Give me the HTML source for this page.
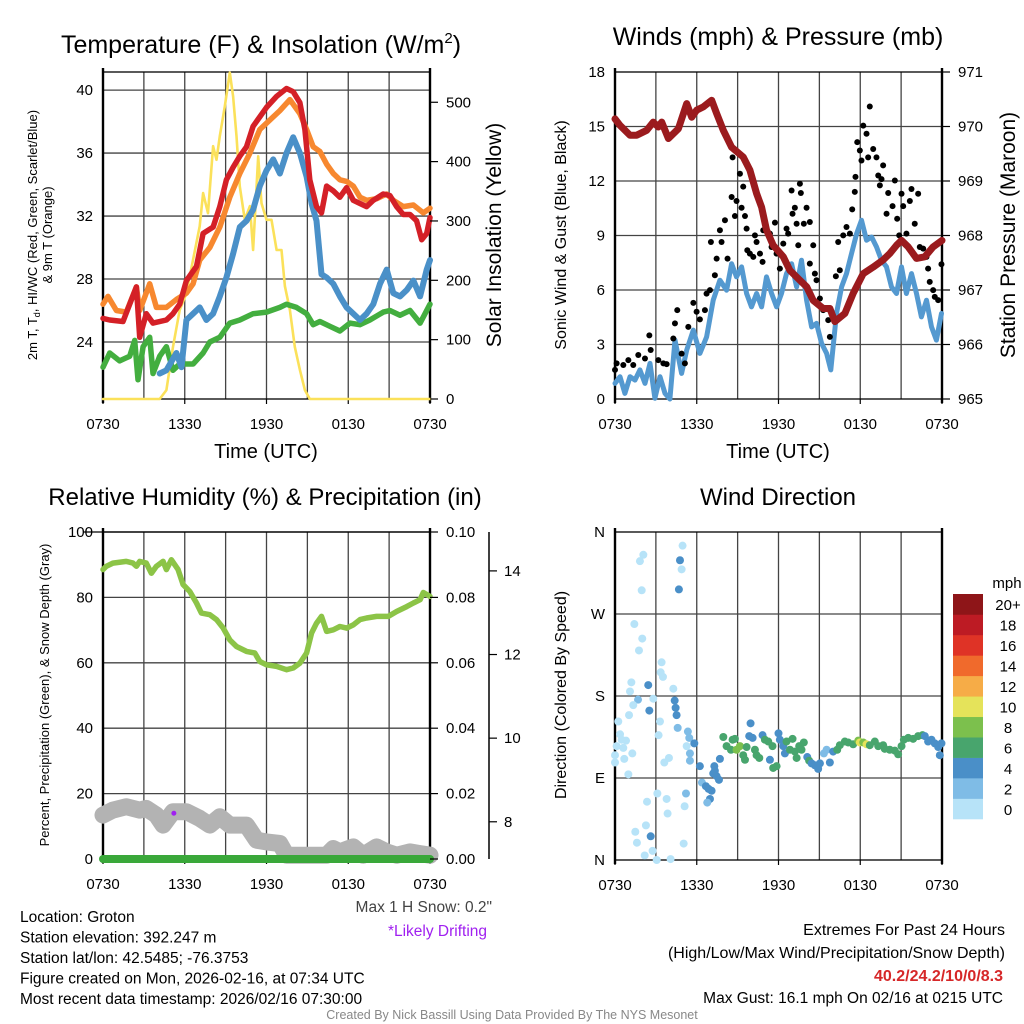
<!DOCTYPE html>
<html><head><meta charset="utf-8">
<style>
html,body{margin:0;padding:0;background:#fff;}
svg{display:block;font-family:"Liberation Sans",sans-serif;}
</style></head>
<body>
<svg id="fig" width="1024" height="1024" viewBox="0 0 1024 1024" xmlns="http://www.w3.org/2000/svg"></svg>
<script>
// ---------- DATA (hours since 0730 UTC) ----------
var xTickHours = [0, 6, 12, 18, 24];
var xTickLabels = ["0730", "1330", "1930", "0130", "0730"];

// Panel 1: temperature (F) & insolation
var redHours = [0,0.49,1.47,2.45,2.69,3.18,3.67,4.65,5.14,5.63,6.12,6.86,7.35,8.08,8.57,9.06,9.55,10.04,10.53,11.02,11.51,12.0,12.74,13.47,13.96,14.45,14.82,15.18,15.67,16.04,16.41,16.9,17.39,17.88,18.37,18.86,19.35,19.84,20.57,21.06,21.55,22.04,22.53,23.02,23.39,23.76,24];
var redTemp = [25.5,25.4,25.3,27.5,24.3,25.8,25.2,25.4,25.8,26.4,27.9,28.8,30.9,31.3,32.6,34.3,35.1,35.8,36.4,37.7,38.3,38.9,39.6,40.1,39.9,39.2,37.5,34.3,32.6,32.2,33.9,33.6,33.2,33.8,33.0,32.8,32.6,33.0,33.4,33.3,32.6,32.1,32.1,31.7,30.5,30.9,31.9];
var orangeHours = [0,0.37,0.98,1.71,2.45,2.69,3.43,3.92,4.65,5.39,6.12,6.61,7.1,7.84,8.57,9.31,10.04,10.78,11.51,12.25,12.98,13.72,14.45,14.94,15.43,15.92,16.41,16.9,17.39,17.88,18.37,18.86,19.35,20.08,20.82,21.31,22.04,22.78,23.51,24];
var orangeTemp = [26.4,26.9,26.0,25.9,27.5,26.0,27.7,26.2,26.2,26.7,27.1,27.7,29.2,30.0,31.3,33.2,34.7,36.0,37.5,38.1,38.7,39.4,38.5,37.5,36.4,36.1,35.3,34.7,34.3,34.2,33.9,33.2,33.0,33.1,33.4,33.0,32.6,32.7,32.2,32.5];
var blueHours = [4.16,4.65,5.39,5.76,6.12,6.61,7.1,7.59,8.08,8.57,9.06,9.55,10.04,10.53,11.02,11.51,12.0,12.49,12.98,13.47,13.96,14.45,14.94,15.31,15.67,16.04,16.41,16.9,17.39,17.88,18.37,18.86,19.35,19.84,20.33,20.82,21.31,21.8,22.29,22.78,23.27,23.76,24];
var blueTemp = [22.0,22.2,23.3,22.4,25.4,25.8,26.2,25.4,25.8,26.9,28.1,29.6,31.3,31.7,32.4,33.9,34.9,35.6,34.7,36.0,37.0,36.0,34.5,32.8,31.7,28.3,28.1,27.7,26.9,26.2,25.8,25.4,25.8,26.4,27.7,28.6,27.1,26.9,27.3,27.9,26.9,28.6,29.2];
var greenHours = [0,0.49,1.22,1.96,2.33,2.57,2.94,3.43,3.67,4.16,4.65,5.14,5.63,6.61,7.35,7.84,8.57,9.31,10.04,11.02,12.0,12.98,13.47,14.2,14.94,15.43,15.92,16.65,17.39,18.12,18.86,19.59,20.57,21.06,21.8,22.53,23.27,24];
var greenTemp = [22.4,23.3,22.8,23.1,24.1,21.6,23.7,24.3,22.0,23.1,23.7,22.2,22.6,22.6,23.3,24.0,24.3,25.2,25.4,25.8,25.9,26.2,26.4,26.2,25.8,25.1,25.3,25.0,24.7,25.2,25.1,25.4,25.9,26.0,25.7,26.0,25.2,26.4];
var solarHours = [0,4.16,4.65,5.14,5.63,6.12,6.61,7.1,7.35,7.71,8.08,8.33,8.57,8.94,9.31,9.55,9.8,10.04,10.41,10.78,11.02,11.39,11.63,12.0,12.37,12.74,13.1,13.35,13.72,14.08,14.45,14.82,15.18,24];
var solarWm2 = [0,0,15,88,150,178,235,291,347,313,426,403,443,493,550,510,443,358,302,325,251,409,330,302,302,251,251,190,150,88,49,15,0,0];

// Panel 2: winds (mph) & pressure (mb)
var windHours = [0,0.37,0.73,1.1,1.47,1.83,2.2,2.57,2.93,3.3,3.67,4.03,4.4,4.89,5.26,5.75,6.23,6.72,7.21,7.7,8.19,8.56,8.92,9.29,9.66,10.02,10.39,10.76,11.12,11.49,11.86,12.22,12.59,12.96,13.33,13.69,14.06,14.43,14.79,15.16,15.53,15.84,16.26,16.63,16.99,17.36,17.73,18.09,18.46,18.83,19.19,19.56,19.93,20.29,20.66,21.03,21.39,21.76,22.13,22.49,22.86,23.23,23.59,23.96];
var windMph = [0.86,1.23,0.31,1.23,1.04,1.6,0.86,1.96,0.04,1.23,0.31,0,3.24,1.41,2.69,3.79,2.51,3.42,5.44,6.54,5.99,7.45,6.72,7.27,5.81,5.07,5.81,5.07,6.72,5.81,5.07,5.81,6.9,7.45,6.17,7.64,5.44,3.97,4.16,3.06,2.51,1.6,4.71,6.17,6.9,8.0,9.1,9.84,8.74,8.92,8.37,7.64,7.27,6.17,5.81,7.27,5.81,6.9,5.81,4.52,5.44,3.97,3.24,4.71];
var gustHours = [0,0.12,0.61,0.98,1.34,1.71,2.2,2.52,2.62,3.18,3.55,3.79,4.28,4.4,4.57,4.89,5.13,5.38,5.75,5.99,6.23,6.6,6.72,6.97,7.04,7.33,7.46,7.7,7.82,8.07,8.26,8.56,8.63,8.8,8.92,9.17,9.29,9.41,9.54,9.66,9.71,9.9,10.15,10.27,10.39,10.64,10.83,10.88,11.12,11.37,11.49,11.74,11.86,12.1,12.35,12.59,12.71,12.96,13.03,13.2,13.33,13.45,13.57,13.64,13.86,14.06,14.3,14.55,14.3,14.67,14.79,15.04,15.28,15.65,15.77,16.21,16.38,16.5,16.75,16.99,17.24,17.41,17.6,17.65,17.78,17.97,18.09,18.22,18.46,18.7,18.58,18.95,19.19,19.32,19.44,19.68,19.56,19.93,20.05,20.37,20.54,20.71,20.86,21.03,21.15,21.39,21.64,21.76,22.0,22.25,22.37,22.62,22.86,22.98,23.1,23.35,23.47,23.72,23.96];
var gustMph = [1.6,1.96,1.87,2.14,1.87,2.42,2.23,3.5,2.7,2.14,1.96,1.92,3.33,4.16,4.89,2.5,1.96,3.97,5.29,4.8,4.38,4.89,5.8,5.99,8.64,6.81,7.73,9.29,8.64,9.84,7.73,11.12,13.3,10.07,10.9,12.4,10.53,11.69,10.07,9.38,8.19,8.0,7.82,9.01,8.64,8.0,7.55,9.29,9.38,9.1,8.37,9.71,8.0,7.18,8.55,9.38,9.1,11.48,10.2,10.53,9.65,8.46,11.85,11.34,9.65,10.53,9.74,8.46,7.45,6.9,6.54,5.53,4.89,4.34,3.42,6.76,8.64,7.09,9.01,9.47,9.1,10.44,11.4,12.23,14.14,13.68,13.13,15.05,14.6,16.1,13.3,13.76,13.3,12.3,11.76,12.86,12.1,10.2,11.34,10.62,12.03,9.92,9.01,11.3,10.62,9.1,10.9,11.56,9.65,11.3,8.37,8.28,7.82,7.18,6.45,5.99,5.62,5.44,7.42];
var presHours = [0,0.37,1.1,1.59,2.33,2.81,3.18,3.43,3.92,4.65,5.26,5.63,5.99,6.48,7.1,7.46,7.95,8.56,9.41,9.9,10.39,10.76,11.12,11.61,12.35,12.84,13.57,14.06,14.55,15.28,15.77,16.14,16.87,17.48,18.22,18.95,19.68,20.17,20.66,21.03,21.52,22.13,22.74,23.35,24];
var presMb = [970.14,970.02,969.84,969.84,969.93,970.08,969.99,970.08,969.78,969.96,970.42,970.17,970.3,970.36,970.48,970.24,969.93,969.62,969.44,969.2,968.77,968.52,968.1,967.82,967.61,967.36,967.18,967.06,966.81,966.66,966.66,966.42,966.57,966.94,967.3,967.42,967.55,967.67,967.82,967.91,967.79,967.58,967.61,967.79,967.91];

// Panel 3: RH (%), precipitation (in), snow depth (in)
var rhHours = [0,0.24,0.73,1.71,2.2,2.45,2.69,3.18,3.55,3.92,4.41,4.65,5.02,5.51,5.88,6.37,6.86,7.22,7.84,8.33,8.82,9.31,9.8,10.53,11.14,11.51,12.0,12.74,13.47,13.96,14.45,14.94,15.31,15.67,16.04,16.41,16.9,17.39,17.88,18.37,18.86,19.35,20.08,20.94,21.55,22.29,22.78,23.27,23.51,24];
var rhPct = [88.5,89.5,90.5,91,90.5,89.5,91,90.5,87.4,89.5,91,88.5,91.5,88.5,83.9,81.8,78.3,75.2,74.7,73.2,70.6,67,65,63.5,63,60.4,59.4,58.9,57.9,58.4,59.9,63,69.1,72.1,74.2,69.6,70.1,71.1,70.6,71.6,73.2,73.7,74.2,74.2,75.7,77.2,78.3,79.3,81.5,80.3];
var precipHours = [0, 24];
var precipIn = [0, 0];
var snowHours = [0,0.73,1.71,2.69,3.18,3.92,4.41,5.14,6.12,7.1,7.84,8.57,9.31,10.53,11.27,12.0,12.98,13.47,16.41,16.9,17.39,18.37,19.1,20.08,20.82,21.55,22.53,23.27,24];
var snowIn = [8.16,8.28,8.36,8.28,8.32,8.16,7.92,8.24,8.24,8.08,7.92,8.12,7.92,7.92,7.56,7.52,7.48,7.2,7.2,7.36,7.28,7.4,7.2,7.4,7.28,7.2,7.28,7.24,7.2];
var driftHours = [5.2];
var driftPct = [14];

// Panel 4: wind direction (deg) colored by speed (mph)
var dirHours = [1.83,2.08,1.96,4.77,4.89,4.96,4.69,1.42,2.0,1.76,3.42,3.35,3.52,4.28,1.2,1.1,2.44,1.69,1.34,2.81,2.52,1.03,0.24,4.38,4.45,4.52,4.6,3.3,3.2,0.37,0.49,0.81,0.61,0.12,0,0,0.68,1.27,0.98,3.62,3.96,5.35,5.45,5.5,5.5,5.26,5.82,6.23,6.38,6.67,6.87,7.09,6.97,6.77,5.21,5.11,3.79,3.86,3.11,2.35,2.27,1.49,1.61,2.62,2.18,2.76,3.06,4.08,5.04,7.29,7.21,7.46,7.63,7.33,7.7,7.95,8.19,8.51,8.63,8.8,8.92,9.17,9.41,9.54,9.66,9.95,9.85,10.1,10.27,10.39,10.59,10.83,11.0,11.25,11.37,11.61,11.86,11.56,12.0,12.1,12.35,12.47,12.59,12.84,13.03,13.2,13.33,13.52,13.69,13.86,14.11,14.25,14.43,14.67,14.91,15.04,15.33,15.53,15.77,16.01,16.31,16.5,16.87,17.11,17.48,17.85,17.97,18.22,18.46,18.7,19.07,19.32,19.68,19.8,20.17,20.54,20.78,21.03,21.2,21.52,21.88,22.25,22.57,22.74,22.98,23.23,23.47,23.72,23.84,23.96];
var dirDeg = [328,335,296,329,319,345,297,259,243,230,217,206,201,188,195,185,192,176,170,177,164,159,152,175,167,159,145,152,137,138,132,131,123,125,115,107,111,117,94,107,112,141,134,117,109,125,128,103,85,81,78,76,67,63,73,59,67,51,73,64,38,31,19,26,5,10,0,1,18,103,95,92,88,98,111,135,125,121,132,133,121,125,115,110,124,150,136,134,121,115,112,137,132,130,110,101,103,125,139,132,125,117,130,121,133,119,112,125,121,129,113,109,106,104,100,106,117,121,107,119,121,126,130,129,127,131,129,129,127,126,130,125,126,122,121,120,116,125,132,134,133,136,137,136,130,132,128,124,115,128];
var dirSpeed = [1,1,1,4,1,1,4,1,1,1,1,1,1,1,1,1,4,3,1,1,4,1,1,4,4,5,3,1,1,1,1,1,1,1,1,1,1,1,1,1,1,3,3,3,3,1,4,4,3,4,4,4,4,3,3,1,1,1,1,1,1,1,1,4,1,1,1,1,1,4,4,4,4,4,4,6,6,7,6,6,8,8,6,6,6,4,4,4,7,6,6,4,6,6,4,6,6,6,4,4,4,4,6,6,7,6,7,7,6,6,4,6,4,4,4,4,3,3,4,4,6,6,6,6,6,9,10,8,10,7,7,7,7,7,6,6,6,6,6,6,6,6,6,4,4,4,4,4,4,4];
var speedBinLabels = ["0","2","4","6","8","10","12","14","16","18","20+"];
var speedBinColors = ["#b7e3f8","#7fbce6","#4a8fc8","#48a56d","#7cc04d","#e5e35a","#f6ac47","#f06a2c","#df3326","#bd1b24","#8e1518"];

// ---------- DRAWING ----------
var NS = "http://www.w3.org/2000/svg";
var svg = document.getElementById("fig");
function mk(tag, attrs, parent) {
  var e = document.createElementNS(NS, tag);
  for (var k in attrs) e.setAttribute(k, attrs[k]);
  (parent || svg).appendChild(e);
  return e;
}
function txt(s, x, y, size, anchor, parent, extra) {
  var a = {x: x, y: y, "font-size": size, "text-anchor": anchor || "middle", fill: "#000"};
  if (extra) for (var k in extra) a[k] = extra[k];
  var t = mk("text", a, parent);
  t.textContent = s;
  return t;
}
function scale(d0, d1, r0, r1) { return function (v) { return r0 + (v - d0) / (d1 - d0) * (r1 - r0); }; }

function panelFrame(P, name, hGridVals, ys) {
  var g = mk("g", {});
  
  
  var xs = scale(0, 24, P.x0, P.x1);
  for (var h = 3; h < 24; h += 3) {
    var gl = mk("line", {x1: xs(h), x2: xs(h), y1: P.y0, y2: P.y1, stroke: "#444", "stroke-width": 1.3}, g);
    
    
  }
  hGridVals.forEach(function (v) {
    var hl = mk("line", {x1: P.x0, x2: P.x1, y1: ys(v), y2: ys(v), stroke: "#444", "stroke-width": 1.3}, g);
    
    
  });
  var b = mk("rect", {x: P.x0, y: P.y0, width: P.x1 - P.x0, height: P.y1 - P.y0, fill: "none", stroke: "#000", "stroke-width": 1.3}, g);
  
  
  var la = mk("line", {x1: P.x0, x2: P.x0, y1: P.y0 - 4, y2: P.y1 + 4, stroke: "#000", "stroke-width": 2.4}, g);
  
  
  var ra = mk("line", {x1: P.x1, x2: P.x1, y1: P.y0 - 4, y2: P.y1 + 4, stroke: "#000", "stroke-width": 2.4}, g);
  
  
  for (var i = 0; i < xTickHours.length; i++) {
    var tk = mk("line", {x1: xs(xTickHours[i]), x2: xs(xTickHours[i]), y1: P.y1, y2: P.y1 + 5, stroke: "#000", "stroke-width": 1.2}, g);
    
    
    var tl = txt(xTickLabels[i], xs(xTickHours[i]), P.y1 + 30, 15, "middle", g);
    
    
  }
  return xs;
}
function polyline(hours, vals, xs, ys, color, width, name, parent) {
  var pts = [];
  for (var i = 0; i < hours.length; i++) pts.push(xs(hours[i]).toFixed(1) + "," + ys(vals[i]).toFixed(1));
  var p = mk("polyline", {points: pts.join(" "), fill: "none", stroke: color, "stroke-width": width, "stroke-linejoin": "round", "stroke-linecap": "round"}, parent);
  
  
  return p;
}
function leftTicks(P, vals, labels, ys, g, size) {
  for (var i = 0; i < vals.length; i++) {
    var t = txt(labels[i], P.x0 - 10, ys(vals[i]) + 5, size || 15, "end", g);
    
    
  }
}
function rightTicks(P, vals, labels, ys, g, size) {
  for (var i = 0; i < vals.length; i++) {
    var tk = mk("line", {x1: P.x1, x2: P.x1 + 8, y1: ys(vals[i]), y2: ys(vals[i]), stroke: "#000", "stroke-width": 1.2}, g);
    
    
    var t = txt(labels[i], P.x1 + 16, ys(vals[i]) + 5, size || 15, "start", g);
    
    
  }
}

// ===== Panel 1 =====
var P1 = {x0: 103, x1: 430, y0: 72, y1: 399};
var y1L = scale(20.38, 41.15, P1.y1, P1.y0);
var y1R = scale(0, 551, P1.y1, P1.y0);
var x1s = panelFrame(P1, "temperature-panel", [24, 28, 32, 36, 40], y1L);
var g1 = mk("g", {});


polyline(solarHours, solarWm2, x1s, y1R, "#fbe15a", 2.6, "solar-insolation-line", g1);
polyline(greenHours, greenTemp, x1s, y1L, "#43ae3f", 5.5, "dewpoint-line", g1);
polyline(blueHours, blueTemp, x1s, y1L, "#4a90c8", 6, "heat-index-windchill-line", g1);
polyline(orangeHours, orangeTemp, x1s, y1L, "#f7882f", 5.5, "temp-9m-line", g1);
polyline(redHours, redTemp, x1s, y1L, "#d42027", 5.5, "temp-2m-line", g1);
leftTicks(P1, [24, 28, 32, 36, 40], ["24", "28", "32", "36", "40"], y1L, g1);
rightTicks(P1, [0, 100, 200, 300, 400, 500], ["0", "100", "200", "300", "400", "500"], y1R, g1);
var t1 = txt("Temperature (F) & Insolation (W/m", 261, 53, 25, "middle");


var sup = mk("tspan", {dy: -10, "font-size": 15}, t1); sup.textContent = "2";
var sup2 = mk("tspan", {dy: 10}, t1); sup2.textContent = ")";
var yl1 = mk("text", {transform: "translate(37,235) rotate(-90)", "font-size": 13, "text-anchor": "middle"});


var ta = mk("tspan", {x: 0, y: 0}, yl1); ta.textContent = "2m T, T";
var tb = mk("tspan", {dy: 3, "font-size": 9}, yl1); tb.textContent = "d";
var tc = mk("tspan", {dy: -3}, yl1); tc.textContent = ", HI/WC (Red, Green, Scarlet/Blue)";
var td = mk("tspan", {x: 0, y: 15}, yl1); td.textContent = "& 9m T (Orange)";
var yr1 = txt("Solar Insolation (Yellow)", 0, 0, 21, "middle", svg, {transform: "translate(501,235) rotate(-90)"});


var xt1 = txt("Time (UTC)", 266, 458, 20, "middle");



// ===== Panel 2 =====
var P2 = {x0: 615, x1: 942, y0: 72, y1: 399};
var y2L = scale(0, 18, P2.y1, P2.y0);
var y2R = scale(965, 971, P2.y1, P2.y0);
var x2s = panelFrame(P2, "winds-panel", [3, 6, 9, 12, 15], y2L);
var g2 = mk("g", {});


polyline(windHours, windMph, x2s, y2L, "#5499d0", 5, "sonic-wind-line", g2);
for (var i = 0; i < gustHours.length; i++) {
  var c = mk("circle", {cx: x2s(gustHours[i]), cy: y2L(gustMph[i]), r: 3, fill: "#000"}, g2);
  
  
}
polyline(presHours, presMb, x2s, y2R, "#9b1b1e", 7, "station-pressure-line", g2);
leftTicks(P2, [0, 3, 6, 9, 12, 15, 18], ["0", "3", "6", "9", "12", "15", "18"], y2L, g2);
rightTicks(P2, [965, 966, 967, 968, 969, 970, 971], ["965", "966", "967", "968", "969", "970", "971"], y2R, g2);
var t2 = txt("Winds (mph) & Pressure (mb)", 778, 45, 25, "middle");


var yl2 = txt("Sonic Wind & Gust (Blue, Black)", 0, 0, 16, "middle", svg, {transform: "translate(566,235) rotate(-90)"});


var yr2 = txt("Station Pressure (Maroon)", 0, 0, 21, "middle", svg, {transform: "translate(1015,235) rotate(-90)"});


var xt2 = txt("Time (UTC)", 778, 458, 20, "middle");



// ===== Panel 3 =====
var P3 = {x0: 103, x1: 430, y0: 532, y1: 859};
var y3L = scale(0, 100, P3.y1, P3.y0);
var y3R = scale(0, 0.1, P3.y1, P3.y0);
var y3S = scale(7.11, 14.93, P3.y1, P3.y0);
var x3s = panelFrame(P3, "humidity-panel", [20, 40, 60, 80], y3L);
var g3 = mk("g", {});


polyline(snowHours, snowIn, x3s, y3S, "#b3b3b3", 17, "snow-depth-line", g3);
polyline(precipHours, precipIn, x3s, y3R, "#3aa83a", 8, "precipitation-line", g3);
polyline(rhHours, rhPct, x3s, y3L, "#8cc447", 5.5, "relative-humidity-line", g3);
for (var i = 0; i < driftHours.length; i++) {
  var dc = mk("circle", {cx: x3s(driftHours[i]), cy: y3L(driftPct[i]), r: 2.5, fill: "#a020f0"}, g3);
  
  
}
var topline = mk("line", {x1: P3.x0 - 20, x2: P3.x1, y1: P3.y0, y2: P3.y0, stroke: "#000", "stroke-width": 1.3}, g3);


leftTicks(P3, [0, 20, 40, 60, 80, 100], ["0", "20", "40", "60", "80", "100"], y3L, g3);
rightTicks(P3, [0, 0.02, 0.04, 0.06, 0.08, 0.1], ["0.00", "0.02", "0.04", "0.06", "0.08", "0.10"], y3R, g3);
var sax = mk("line", {x1: 489, x2: 489, y1: P3.y0, y2: P3.y1, stroke: "#000", "stroke-width": 1.5}, g3);


[8, 10, 12, 14].forEach(function (v) {
  var tk = mk("line", {x1: 489, x2: 497, y1: y3S(v), y2: y3S(v), stroke: "#000", "stroke-width": 1.2}, g3);
  
  
  var tl = txt(String(v), 504, y3S(v) + 5, 15, "start", g3);
  
  
});
var t3 = txt("Relative Humidity (%) & Precipitation (in)", 265, 505, 24, "middle");


var yl3 = txt("Percent, Precipitation (Green), & Snow Depth (Gray)", 0, 0, 13, "middle", svg, {transform: "translate(49,695) rotate(-90)"});



// ===== Panel 4 =====
var P4 = {x0: 615, x1: 942, y0: 532, y1: 860};
var y4 = scale(0, 360, P4.y1, P4.y0);
var x4s = panelFrame(P4, "wind-direction-panel", [90, 180, 270], y4);
var g4 = mk("g", {});


for (var i = 0; i < dirHours.length; i++) {
  var bin = Math.min(10, Math.floor(dirSpeed[i] / 2));
  var d = mk("circle", {cx: x4s(dirHours[i]), cy: y4(dirDeg[i]), r: 4, fill: speedBinColors[bin]}, g4);
  
  
}
leftTicks(P4, [0, 90, 180, 270, 360], ["N", "E", "S", "W", "N"], y4, g4);
var t4 = txt("Wind Direction", 778, 505, 24, "middle");


var yl4 = txt("Direction (Colored By Speed)", 0, 0, 16, "middle", svg, {transform: "translate(566,695) rotate(-90)"});


// colorbar
var cb = mk("g", {});


var cbTop = 594, cbBot = 819, cbH = (cbBot - cbTop) / speedBinColors.length;
for (var i = 0; i < speedBinColors.length; i++) {
  var yb = cbBot - (i + 1) * cbH;
  var r = mk("rect", {x: 953, y: yb, width: 30, height: cbH + 0.3, fill: speedBinColors[i]}, cb);
  
  
  var l = txt(speedBinLabels[i], 1008, yb + cbH / 2 + 6, 15, "middle", cb);
  
  
}
var mph = txt("mph", 1007, 588, 15, "middle", cb);



// ===== Footer text =====
var info = ["Location: Groton", "Station elevation: 392.247 m", "Station lat/lon: 42.5485; -76.3753",
  "Figure created on Mon, 2026-02-16, at 07:34 UTC", "Most recent data timestamp: 2026/02/16 07:30:00"];
for (var i = 0; i < info.length; i++) {
  var it = txt(info[i], 20, 922 + i * 20.5, 15.5, "start");
  
  
}
var ms = txt("Max 1 H Snow: 0.2\"", 492, 912, 15.5, "end", svg, {fill: "#444"});


var ld = txt("*Likely Drifting", 487, 936, 15.5, "end", svg, {fill: "#a020f0"});


var e1 = txt("Extremes For Past 24 Hours", 1005, 935, 16, "end");


var e2 = txt("(High/Low/Max Wind/Precipitation/Snow Depth)", 1005, 958, 16, "end");


var e3 = txt("40.2/24.2/10/0/8.3", 1003, 981, 16, "end", svg, {fill: "#d62728", "font-weight": "bold"});


var e4 = txt("Max Gust: 16.1 mph On 02/16 at 0215 UTC", 1003, 1003, 15.5, "end");


var cr = txt("Created By Nick Bassill Using Data Provided By The NYS Mesonet", 512, 1019, 12.5, "middle", svg, {fill: "#888"});


</script>
</body></html>
